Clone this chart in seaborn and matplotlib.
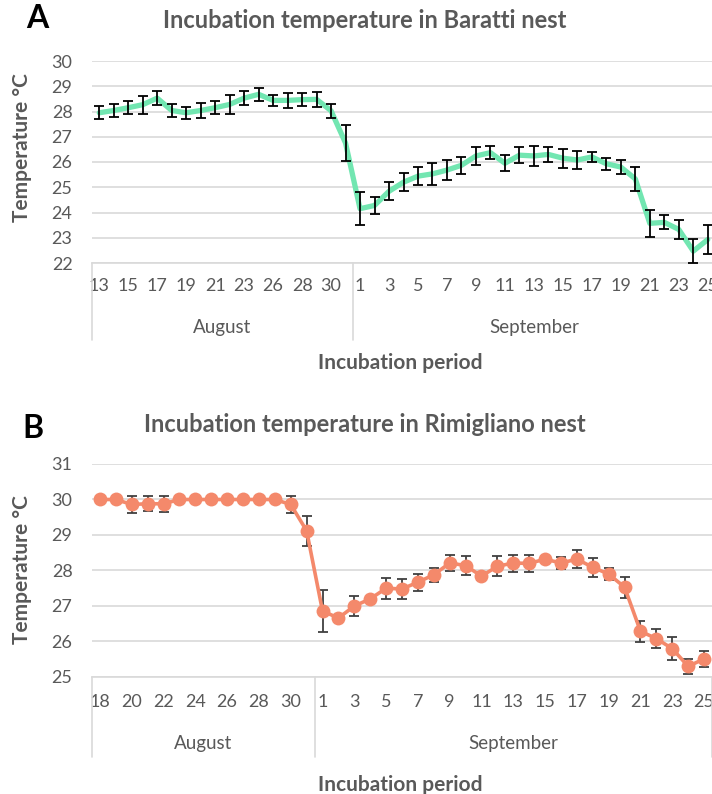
import numpy as np
import pandas as pd
import matplotlib
matplotlib.use("Agg")
import matplotlib.pyplot as plt
import seaborn as sns

# ---- data ----
# Baratti nest (A): August 25 has no record
aug_days_a = [13, 14, 15, 16, 17, 18, 19, 20, 21, 22, 23, 24, 26, 27, 28, 29, 30, 31]
sep_days_a = list(range(1, 26))
temp_a = [27.95, 28.04, 28.15, 28.27, 28.53, 28.04, 27.95, 28.04, 28.15, 28.28,
          28.53, 28.68, 28.44, 28.44, 28.47, 28.48, 28.03, 26.75,
          24.15, 24.28, 24.84, 25.20, 25.44, 25.53, 25.68, 25.87, 26.24, 26.37,
          25.95, 26.27, 26.24, 26.30, 26.15, 26.08, 26.20, 25.93, 25.80, 25.33,
          23.57, 23.61, 23.33, 22.47, 22.93]
err_a = [0.25, 0.27, 0.25, 0.35, 0.27, 0.25, 0.24, 0.29, 0.25, 0.36,
         0.29, 0.27, 0.23, 0.29, 0.25, 0.29, 0.28, 0.70,
         0.65, 0.35, 0.35, 0.35, 0.37, 0.43, 0.38, 0.33, 0.37, 0.25,
         0.31, 0.32, 0.39, 0.29, 0.38, 0.37, 0.21, 0.23, 0.27, 0.48,
         0.53, 0.28, 0.39, 0.48, 0.58]

# Rimigliano nest (B)
aug_days_b = list(range(18, 32))
sep_days_b = list(range(1, 26))
temp_b = [30.0, 30.0, 29.86, 29.88, 29.88, 30.0, 30.0, 30.0, 30.0, 30.0,
          30.0, 30.0, 29.86, 29.12,
          26.86, 26.66, 27.00, 27.20, 27.50, 27.48, 27.67, 27.88, 28.21, 28.14,
          27.84, 28.12, 28.21, 28.20, 28.32, 28.21, 28.32, 28.09, 27.90, 27.53,
          26.29, 26.08, 25.80, 25.30, 25.51]
err_b = [0, 0, 0.23, 0.21, 0.22, 0, 0, 0, 0, 0,
         0, 0, 0.24, 0.42,
         0.58, 0, 0.27, 0, 0.29, 0.29, 0.24, 0.20, 0.23, 0.27,
         0.12, 0.28, 0.24, 0.23, 0, 0.18, 0.26, 0.26, 0.18, 0.30,
         0.30, 0.26, 0.33, 0.21, 0.23]

months = ["August", "September"]

sns.set_style("white")
plt.rcParams["font.family"] = ["Lato", "DejaVu Sans"]

GRAY = "#595959"
GRID = "#D9D9D9"
W, H = 712, 794

fig = plt.figure(figsize=(W / 100, H / 100), dpi=100)


def px_axes(left, top, right, bottom):
    return fig.add_axes([left / W, 1 - bottom / H, (right - left) / W, (bottom - top) / H])


def panel(ax, aug_days, sep_days, temp, err, color, ylim, marker, lw, ecolor,
          drop_px, month_px, tick_pad):
    days = aug_days + sep_days
    df = pd.DataFrame({"idx": np.arange(len(days)), "temp": temp, "err": err})
    sns.lineplot(data=df, x="idx", y="temp", ax=ax, color=color, linewidth=lw,
                 marker=marker, markersize=10 if marker else 0,
                 markeredgewidth=0, zorder=3)
    has = df[df["err"] > 0]
    ax.errorbar(has["idx"], has["temp"], yerr=has["err"], fmt="none",
                ecolor=ecolor, elinewidth=1.3, capsize=3.5, capthick=1.3,
                zorder=4 if marker is None else 2)

    n = len(days)
    ax.set_xlim(-0.5, n - 0.5)
    ax.set_ylim(*ylim)
    ax.set_yticks(range(ylim[0], ylim[1] + 1))
    ax.set_xticks(range(0, n, 2))
    ax.set_xticklabels([str(d) for d in days[::2]])
    ax.tick_params(axis="both", length=0, labelsize=13, labelcolor=GRAY)
    ax.tick_params(axis="x", pad=tick_pad)
    ax.tick_params(axis="y", pad=14)
    ax.set_xlabel("")
    ax.set_ylabel("")
    ax.grid(axis="y", color=GRID, linewidth=1.2)
    ax.set_axisbelow(True)
    for s in ["top", "right", "left"]:
        ax.spines[s].set_visible(False)
    ax.spines["bottom"].set_color(GRID)
    ax.spines["bottom"].set_linewidth(1.2)

    # two-level category axis (day / month)
    h_px = ax.get_position().height * H
    drop = drop_px / h_px
    tr = ax.get_xaxis_transform()
    for b in [-0.5, len(aug_days) - 0.5, n - 0.5]:
        ax.plot([b, b], [0, -drop], transform=tr, clip_on=False,
                color=GRID, linewidth=1.2)
    centers = [(len(aug_days) - 1) / 2, len(aug_days) + (len(sep_days) - 1) / 2]
    for c, m in zip(centers, months):
        ax.text(c, -month_px / h_px, m, transform=tr, ha="center", va="center",
                fontsize=13.5, color=GRAY)


ax_a = px_axes(92, 61, 715, 263)
panel(ax_a, aug_days_a, sep_days_a, temp_a, err_a, "#72E6B1", (22, 30), None, 3.8,
      "black", 77, 64, 11)

ax_b = px_axes(92, 464, 712, 677)
panel(ax_b, aug_days_b, sep_days_b, temp_b, err_b, "#F4896B", (25, 31), "o", 2.6,
      "#404040", 80, 66, 12)

# titles, panel letters and axis titles
fig.text(365 / W, 1 - 20 / H, "Incubation temperature in Baratti nest",
         ha="center", va="center", fontsize=17, fontweight="bold", color=GRAY)
fig.text(365 / W, 1 - 425 / H, "Incubation temperature in Rimigliano nest",
         ha="center", va="center", fontsize=17, fontweight="bold", color=GRAY)
fig.text(37 / W, 1 - 18 / H, "A", ha="center", va="center", fontsize=23,
         fontweight="bold", color="black")
fig.text(33 / W, 1 - 428 / H, "B", ha="center", va="center", fontsize=23,
         fontweight="bold", color="black")
for y in [363, 785]:
    fig.text(400 / W, 1 - y / H, "Incubation period", ha="center", va="center",
             fontsize=15, fontweight="bold", color=GRAY)
for y in [148, 570]:
    fig.text(22 / W, 1 - y / H, "Temperature °C", ha="center", va="center",
             rotation=90, fontsize=15, fontweight="bold", color=GRAY)

fig.savefig("out.png", dpi=100)
